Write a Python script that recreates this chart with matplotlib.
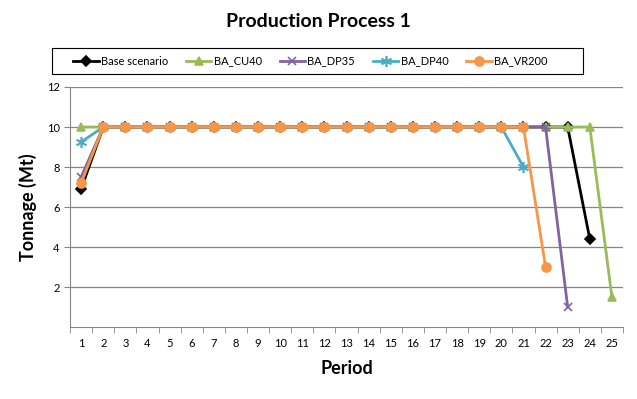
import matplotlib
matplotlib.use("Agg")
import matplotlib.pyplot as plt
from matplotlib.patches import Rectangle

plt.rcParams['font.family'] = ['Lato', 'DejaVu Sans']

periods = list(range(1, 26))
base = [6.9] + [10] * 22 + [4.4]
cu40 = [10] * 24 + [1.5]
dp35 = [7.5] + [10] * 21 + [1.0]
dp40 = [9.25] + [10] * 19 + [8.0]
vr200 = [7.2] + [10] * 20 + [3.0]

series = [
    ("Base scenario", base, "#000000", "D", 5),
    ("BA_CU40", cu40, "#9BBB59", "^", 6),
    ("BA_DP35", dp35, "#8064A2", "x", 6),
    ("BA_DP40", dp40, "#4BACC6", (6, 2, 0), 8),
    ("BA_VR200", vr200, "#F79646", "o", 6.5),
]

fig = plt.figure(figsize=(6.37, 3.99), dpi=100)
ax = fig.add_axes([0.110, 0.180, 0.868, 0.602])

handles = []
for name, vals, col, mk, ms in series:
    x = periods[:len(vals)]
    h, = ax.plot(x, vals, color=col, lw=2.0, marker=mk, markersize=ms,
                 markeredgecolor=col, markerfacecolor=col, mew=1.2, label=name)
    handles.append(h)

ax.set_xlim(0.5, 25.5)
ax.set_ylim(0, 12)
ax.set_xticks(periods)
ax.set_xticklabels([str(p) for p in periods], fontsize=8)
ax.set_xticks([p + 0.5 for p in range(0, 26)], minor=True)
ax.tick_params(axis='x', which='major', length=0, pad=8)
ax.tick_params(axis='x', which='minor', length=4, color='#868686')
ax.set_yticks([2, 4, 6, 8, 10, 12])
ax.set_yticklabels(['2', '4', '6', '8', '10', '12'], fontsize=8)
ax.tick_params(axis='y', length=4, color='#868686')
ax.grid(axis='y', color='#868686', lw=0.9)
ax.set_axisbelow(True)
for s in ['top', 'right']:
    ax.spines[s].set_visible(False)
for s in ['left', 'bottom']:
    ax.spines[s].set_color('#868686')

ax.set_xlabel('Period', fontsize=13, fontweight='bold', labelpad=8)
ax.set_ylabel('Tonnage (Mt)', fontsize=13, fontweight='bold')
ax.yaxis.set_label_coords(-0.06, 0.5)
fig.text(0.5, 0.945, 'Production Process 1', ha='center', va='center',
         fontsize=14, fontweight='bold')

fig.patches.append(Rectangle((0.0816, 0.8145), 0.834, 0.065,
                             transform=fig.transFigure, fill=False,
                             edgecolor='#000000', lw=0.8))
leg = fig.legend(handles=handles, loc='center', ncol=5,
                 bbox_to_anchor=(0.487, 0.847),
                 frameon=False, fontsize=8,
                 handlelength=2.3, handletextpad=0.2, borderaxespad=0,
                 columnspacing=1.6, borderpad=0.2)

fig.savefig('out.png', dpi=100)
